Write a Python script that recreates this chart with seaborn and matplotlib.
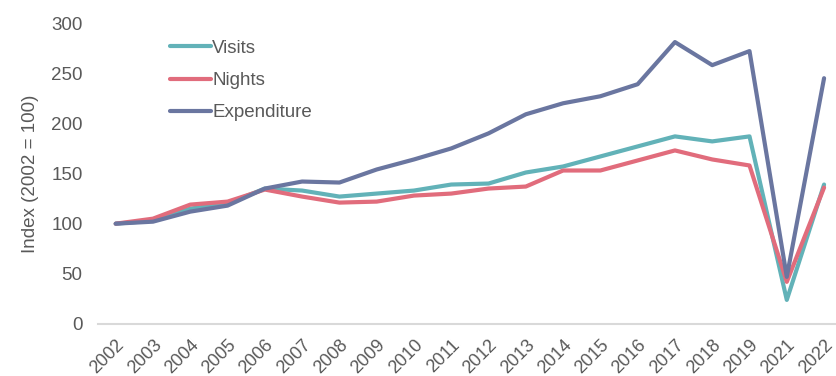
import matplotlib
matplotlib.use("Agg")
import matplotlib.pyplot as plt
import pandas as pd
import seaborn as sns

years = ["2002", "2003", "2004", "2005", "2006", "2007", "2008", "2009", "2010",
         "2011", "2012", "2013", "2014", "2015", "2016", "2017", "2018", "2019",
         "2021", "2022"]
visits = [100, 103, 115, 120, 135, 133, 127, 130, 133, 139, 140, 151, 157, 167,
          177, 187, 182, 187, 24, 139]
nights = [100, 105, 119, 122, 134, 127, 121, 122, 128, 130, 135, 137, 153, 153,
          163, 173, 164, 158, 42, 136]
expenditure = [100, 102, 112, 118, 135, 142, 141, 154, 164, 175, 190, 209, 220,
               227, 239, 281, 258, 272, 47, 245]

series_names = ["Visits", "Nights", "Expenditure"]
palette = {"Visits": "#62b2b8", "Nights": "#e16c7c", "Expenditure": "#6a76a0"}

df = pd.DataFrame({
    "Year": years * 3,
    "Index": visits + nights + expenditure,
    "Series": [s for s in series_names for _ in years],
})

sns.set_theme(style="white")
plt.rcParams["font.family"] = ["Liberation Sans", "DejaVu Sans"]
text_color = "#595959"

fig = plt.figure(figsize=(8.36, 3.76), dpi=100)
ax = fig.add_axes([0.117, 0.1383, 0.883, 0.8005])

sns.lineplot(data=df, x="Year", y="Index", hue="Series", hue_order=series_names,
             palette=palette, linewidth=3, sort=False, ax=ax)

ax.set_ylim(0, 300)
ax.set_yticks(range(0, 301, 50))
ax.set_xlim(-0.48, 19.32)
ax.set_xlabel("")
ax.set_ylabel("Index (2002 = 100)", fontsize=13.5, color=text_color, labelpad=9)

for side in ["top", "right", "left"]:
    ax.spines[side].set_visible(False)
ax.spines["bottom"].set_color("#d9d9d9")
ax.spines["bottom"].set_linewidth(1.5)

ax.tick_params(axis="y", labelsize=13.5, labelcolor=text_color, length=0, pad=11)
ax.tick_params(axis="x", labelsize=13, labelcolor=text_color, length=0, pad=9)
for lbl in ax.get_xticklabels():
    lbl.set_rotation(45)
    lbl.set_ha("right")
    lbl.set_va("top")
    lbl.set_rotation_mode("anchor")

leg = ax.legend(loc="upper left", bbox_to_anchor=(0.075, 1.0), frameon=False,
                fontsize=13.5, handlelength=2.2, handletextpad=0.05,
                labelspacing=0.8, labelcolor=text_color)

fig.savefig("out.png", dpi=100)
